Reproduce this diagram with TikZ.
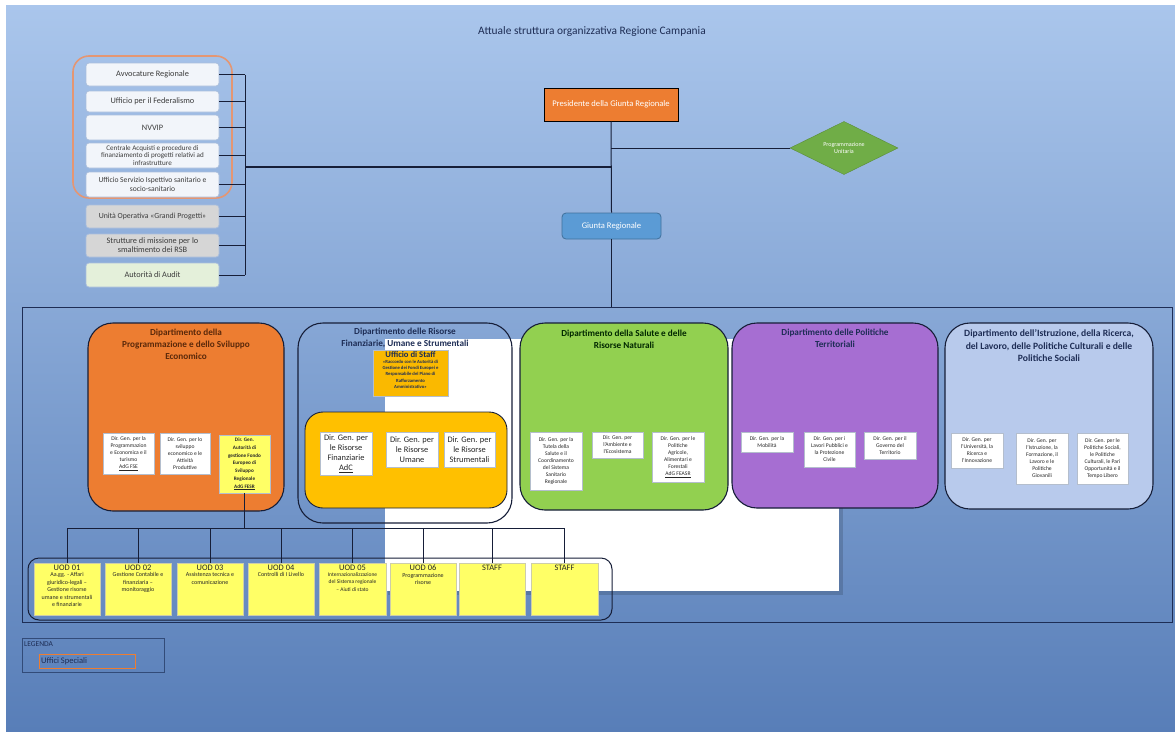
\documentclass[tikz,border=0pt]{standalone}
\usepackage{fontspec}
\setmainfont{Carlito}
\usetikzlibrary{shapes.geometric}
\definecolor{bgtop}{RGB}{170,198,236}
\definecolor{bgbot}{RGB}{88,126,184}
\definecolor{lnc}{RGB}{22,30,56}
\definecolor{navy}{RGB}{30,45,85}
\definecolor{orng}{RGB}{237,125,49}
\definecolor{salmon}{RGB}{228,150,115}
\definecolor{lboxf}{RGB}{242,245,250}
\definecolor{lboxd}{RGB}{170,190,220}
\definecolor{gboxf}{RGB}{214,214,214}
\definecolor{aboxf}{RGB}{228,240,218}
\definecolor{txtg}{RGB}{60,60,60}
\definecolor{giuntaf}{RGB}{91,155,213}
\definecolor{giuntad}{RGB}{65,113,156}
\definecolor{diamf}{RGB}{112,173,71}
\definecolor{diamd}{RGB}{90,140,55}
\definecolor{deptgr}{RGB}{146,208,80}
\definecolor{deptpu}{RGB}{166,110,210}
\definecolor{deptlb}{RGB}{184,202,236}
\definecolor{gold}{RGB}{255,192,0}
\definecolor{staffc}{RGB}{250,185,0}
\definecolor{uodf}{RGB}{255,255,102}
\definecolor{uodd}{RGB}{205,205,170}
\definecolor{dirbd}{RGB}{180,190,205}
\definecolor{brwn}{RGB}{90,40,10}
\definecolor{legd}{RGB}{50,75,120}
\newcommand{\placebox}[7]{\node[#1, minimum width={(#5)-(#3)}, minimum height={(#6)-(#4)}] (#2) at ({((#3)+(#5))/2},{((#4)+(#6))/2}) {#7};}
\tikzset{
  conn/.style={draw=lnc, line width=1pt},
  busthick/.style={draw=lnc, line width=2.5pt},
  lbox/.style={draw=lboxd, fill=lboxf, rounded corners=3pt, line width=0.8pt, inner sep=0pt, align=center, text=txtg, font=\fontsize{8.3}{9}\selectfont},
  spec/.style={draw=salmon, line width=1.6pt, rounded corners=16pt, inner sep=0pt},
  presbox/.style={draw=black, fill=orng, line width=1pt, inner sep=0pt, text=white, font=\fontsize{8.6}{10}\selectfont},
  giuntabox/.style={draw=giuntad, fill=giuntaf, rounded corners=4pt, line width=0.8pt, inner sep=0pt, text=white, font=\fontsize{8.6}{10}\selectfont},
  diam/.style={diamond, draw=diamd, fill=diamf, minimum width=108pt, minimum height=52pt, inner sep=0pt, align=center, text=white, font=\fontsize{6}{7.5}\selectfont},
  framebox/.style={draw=navy, line width=1pt, inner sep=0pt},
  whitebg/.style={fill=white, inner sep=0pt},
  shadowbg/.style={fill=black, fill opacity=0.15, inner sep=0pt},
  dept/.style={draw=lnc, line width=1.1pt, rounded corners=25pt, inner sep=0pt},
  depttitle/.style={inner sep=0pt, align=center, font=\bfseries\fontsize{9.2}{12.3}\selectfont, text=navy},
  dirbox/.style={draw=dirbd, fill=white, line width=0.6pt, inner sep=0.5pt, align=center, text=black!85, font=\fontsize{5.6}{7}\selectfont},
  rbox/.style={dirbox, font=\fontsize{8.4}{10.2}\selectfont},
  uodbox/.style={draw=uodd, fill=uodf, line width=0.8pt, inner sep=0pt},
  uodhead/.style={inner sep=0pt, text=black!85, font=\fontsize{8.4}{9}\selectfont},
  uodtext/.style={inner sep=0pt, align=center, text=black!85, font=\fontsize{6}{7.4}\selectfont},
  legbox/.style={draw=legd, line width=0.7pt, inner sep=0pt},
  legitem/.style={draw=orng, line width=0.9pt, inner sep=0pt},
}
\begin{document}
\begin{tikzpicture}[x=1pt,y=-1pt]
\useasboundingbox (0,0) rectangle (1175,731);
\fill[white] (0,0) rectangle (1175,731);
\shade[top color=bgtop, bottom color=bgbot] (6,5) rectangle (1175,731);

% title
\node[font=\fontsize{11.4}{13}\selectfont, text=navy, inner sep=0pt] (title) at (592,32) {Attuale struttura organizzativa Regione Campania};

% outer frame and white patch
\placebox{framebox}{frame}{22}{307}{1172}{622}{}
\placebox{shadowbg}{wsh}{388}{342}{843}{595}{}
\placebox{whitebg}{wbg}{385}{339}{839}{591}{}

% left column
\placebox{spec}{specgrp}{73}{56}{232}{198}{}
\placebox{lbox}{s1}{86}{63}{219}{86}{Avvocature Regionale}
\placebox{lbox}{s2}{86}{91}{219}{112}{Ufficio per il Federalismo}
\placebox{lbox}{s3}{86}{115}{219}{140}{NVVIP}
\placebox{lbox, font=\fontsize{7.1}{7.8}\selectfont}{s4}{86}{143}{219}{168}{Centrale Acquisti e procedure di\\finanziamento di progetti relativi ad\\infrastrutture}
\placebox{lbox, font=\fontsize{7.6}{9}\selectfont}{s5}{86}{172}{219}{197}{Ufficio Servizio Ispettivo sanitario e\\socio-sanitario}
\placebox{lbox, fill=gboxf, font=\fontsize{7.8}{9}\selectfont}{s6}{86}{205}{219}{228}{Unità Operativa «Grandi Progetti»}
\placebox{lbox, fill=gboxf}{s7}{86}{234}{219}{257}{Strutture di missione per lo\\smaltimento dei RSB}
\placebox{lbox, fill=aboxf}{s8}{86}{263}{219}{287}{Autorità di Audit}

% top nodes
\placebox{presbox}{pres}{544}{88}{678}{121}{Presidente della Giunta Regionale}
\placebox{giuntabox}{giunta}{562}{213}{661}{239}{Giunta Regionale}
\node[diam] (prog) at (844,148) {Programmazione\\Unitaria};

% connectors top
\coordinate (busx) at (245,0);
\coordinate (junc) at (245,167);
\foreach \k in {1,...,8} \draw[conn] (s\k.east) -- (s\k.east -| busx);
\draw[conn] (s1.east -| busx) -- (s8.east -| busx);
\draw[busthick] (junc) -- (junc -| pres.south);
\draw[conn] (pres.south) -- (giunta.north);
\draw[conn] (prog.west) -- (prog.west -| pres.south);
\draw[conn] (giunta.south) -- (giunta.south |- frame.north);

% Department 1 (orange)
\placebox{dept, fill=orng}{d1}{88}{323}{284}{511}{}
\node[depttitle, text=brwn, anchor=north] (d1t) at ([yshift=-6pt]d1.north) {Dipartimento della\\Programmazione e dello Sviluppo\\Economico};
\placebox{dirbox}{d1a}{103}{433}{154}{474}{Dir. Gen. per la\\Programmazion\\e Economica e il\\turismo\\\underline{AdG FSE}}
\placebox{dirbox}{d1b}{160}{433}{210}{474}{Dir. Gen. per lo\\sviluppo\\economico e le\\Attività\\Produttive}
\placebox{dirbox, fill=uodf, font=\bfseries\fontsize{5.2}{7.8}\selectfont}{fesr}{219}{435}{270}{493}{Dir. Gen.\\Autorità di\\gestione Fondo\\Europeo di\\Sviluppo\\Regionale\\\underline{AdG FESR}}

% Department 2 (Risorse)
\placebox{dept}{d2}{298}{323}{512}{523}{}
\node[depttitle, anchor=north] (d2t) at ([yshift=-5pt]d2.north) {Dipartimento delle Risorse\\Finanziarie, Umane e Strumentali};
\placebox{dirbox, draw=dirbd, fill=staffc, inner sep=0pt}{staff}{373}{350}{448}{396}{}
\node[anchor=north, inner sep=0pt, font=\bfseries\fontsize{8.6}{9}\selectfont, text=navy] (stafft) at ([yshift=-2pt]staff.north) {Ufficio di Staff};
\node[anchor=north, inner sep=0pt, align=center, font=\bfseries\fontsize{4.7}{6.3}\selectfont, text=navy] (staffc) at ([yshift=-1.5pt]stafft.south) {«Raccordo con le Autorità di\\Gestione dei Fondi Europei e\\Responsabile del Piano di\\Rafforzamento\\Amministrativo»};
\placebox{dept, fill=gold, rounded corners=18pt, line width=0.9pt}{d2in}{305}{412}{507}{508}{}
\placebox{rbox}{r1}{320}{432}{372}{475}{Dir. Gen. per\\le Risorse\\Finanziarie\\\underline{AdC}}
\placebox{rbox}{r2}{386}{432}{438}{467}{Dir. Gen. per\\le Risorse\\Umane}
\placebox{rbox}{r3}{444}{432}{495}{467}{Dir. Gen. per\\le Risorse\\Strumentali}

% Department 3 (green)
\placebox{dept, fill=deptgr}{d3}{520}{323}{728}{510}{}
\node[depttitle, text=black!85!green, anchor=north] (d3t) at ([yshift=-7pt]d3.north) {Dipartimento della Salute e delle\\Risorse Naturali};
\placebox{dirbox}{g1}{530}{432}{582}{490}{Dir. Gen. per la\\Tutela della\\Salute e il\\Coordinamento\\del Sistema\\Sanitario\\Regionale}
\placebox{dirbox}{g2}{592}{432}{643}{458}{Dir. Gen. per\\l'Ambiente e\\l'Ecosistema}
\placebox{dirbox}{g3}{652}{432}{704}{482}{Dir. Gen. per le\\Politiche\\Agricole,\\Alimentari e\\Forestali\\\underline{AdG FEASR}}

% Department 4 (purple)
\placebox{dept, fill=deptpu}{d4}{732}{323}{938}{508}{}
\node[depttitle, anchor=north] (d4t) at ([yshift=-6pt]d4.north) {Dipartimento delle Politiche\\Territoriali};
\placebox{dirbox}{p1}{741}{432}{793}{452}{Dir. Gen. per la\\Mobilità}
\placebox{dirbox}{p2}{804}{432}{855}{467}{Dir. Gen. per i\\Lavori Pubblici e\\la Protezione\\Civile}
\placebox{dirbox}{p3}{864}{432}{916}{459}{Dir. Gen. per il\\Governo del\\Territorio}

% Department 5 (light blue)
\placebox{dept, fill=deptlb}{d5}{945}{323}{1153}{509}{}
\node[depttitle, font=\bfseries\fontsize{9.6}{12.5}\selectfont, anchor=north] (d5t) at ([yshift=-7pt]d5.north) {Dipartimento dell'Istruzione, della Ricerca,\\del Lavoro, delle Politiche Culturali e delle\\Politiche Sociali};
\placebox{dirbox}{l1}{951}{433}{1003}{468}{Dir. Gen. per\\l'Università, la\\Ricerca e\\l'Innovazione}
\placebox{dirbox}{l2}{1016}{433}{1068}{484}{Dir. Gen. per\\l'Istruzione, la\\Formazione, il\\Lavoro e le\\Politiche\\Giovanili}
\placebox{dirbox}{l3}{1077}{433}{1128}{484}{Dir. Gen. per le\\Politiche Sociali,\\le Politiche\\Culturali, le Pari\\Opportunità e il\\Tempo Libero}

% UOD container and boxes
\placebox{dept, rounded corners=11pt, line width=1pt}{uodc}{28}{558}{612}{620}{}
\placebox{uodbox}{u1}{34}{563}{100}{615}{}
\placebox{uodbox}{u2}{105}{563}{171}{615}{}
\placebox{uodbox}{u3}{177}{563}{243}{615}{}
\placebox{uodbox}{u4}{248}{563}{314}{615}{}
\placebox{uodbox}{u5}{319}{563}{386}{615}{}
\placebox{uodbox}{u6}{390}{563}{456}{615}{}
\placebox{uodbox}{u7}{459}{563}{525}{615}{}
\placebox{uodbox}{u8}{531}{563}{598}{615}{}
\node[uodhead, anchor=north] (u1h) at ([yshift=-2.5pt]u1.north) {UOD 01};
\node[uodhead, anchor=north] (u2h) at ([yshift=-2.5pt]u2.north) {UOD 02};
\node[uodhead, anchor=north] (u3h) at ([yshift=-2.5pt]u3.north) {UOD 03};
\node[uodhead, anchor=north] (u4h) at ([yshift=-2.5pt]u4.north) {UOD 04};
\node[uodhead, anchor=north] (u5h) at ([yshift=-2.5pt]u5.north) {UOD 05};
\node[uodhead, anchor=north] (u6h) at ([yshift=-2.5pt]u6.north) {UOD 06};
\node[uodhead, anchor=north] (u7h) at ([yshift=-2.5pt]u7.north) {STAFF};
\node[uodhead, anchor=north] (u8h) at ([yshift=-2.5pt]u8.north) {STAFF};
\node[uodtext, anchor=north] (u1c) at ([yshift=-1.5pt]u1h.south) {Aa.gg. - Affari\\giuridico-legali –\\Gestione risorse\\umane e strumentali\\e finanziarie};
\node[uodtext, anchor=north] (u2c) at ([yshift=-1.5pt]u2h.south) {Gestione Contabile e\\finanziaria –\\monitoraggio};
\node[uodtext, anchor=north] (u3c) at ([yshift=-1.5pt]u3h.south) {Assistenza tecnica e\\comunicazione};
\node[uodtext, anchor=north] (u4c) at ([yshift=-1.5pt]u4h.south) {Controlli di I Livello};
\node[uodtext, anchor=north, font=\fontsize{5.5}{7.4}\selectfont] (u5c) at ([yshift=-1.5pt]u5h.south) {Internazionalizzazione\\del Sistema regionale\\– Aiuti di stato};
\node[uodtext, anchor=north] (u6c) at ([yshift=-1.5pt]u6h.south) {Programmazione\\risorse};

% UOD tree
\coordinate (tbus) at (0,528);
\draw[conn] (fesr.south) -- (fesr.south |- tbus);
\draw[conn] (u1.north |- tbus) -- (u8.north |- tbus);
\foreach \k in {1,...,8} \draw[conn] (u\k.north |- tbus) -- (u\k.north);

% legend
\placebox{legbox}{leg}{22}{638}{164}{672}{}
\node[anchor=west, inner sep=0pt, font=\fontsize{7.5}{8}\selectfont, text=navy] (legt) at (24,644) {LEGENDA};
\placebox{legitem}{legi}{39}{654}{135}{668}{}
\node[anchor=west, inner sep=0pt, font=\fontsize{8.5}{9}\selectfont, text=navy] (legit) at (41,661) {Uffici Speciali};
\end{tikzpicture}
\end{document}
